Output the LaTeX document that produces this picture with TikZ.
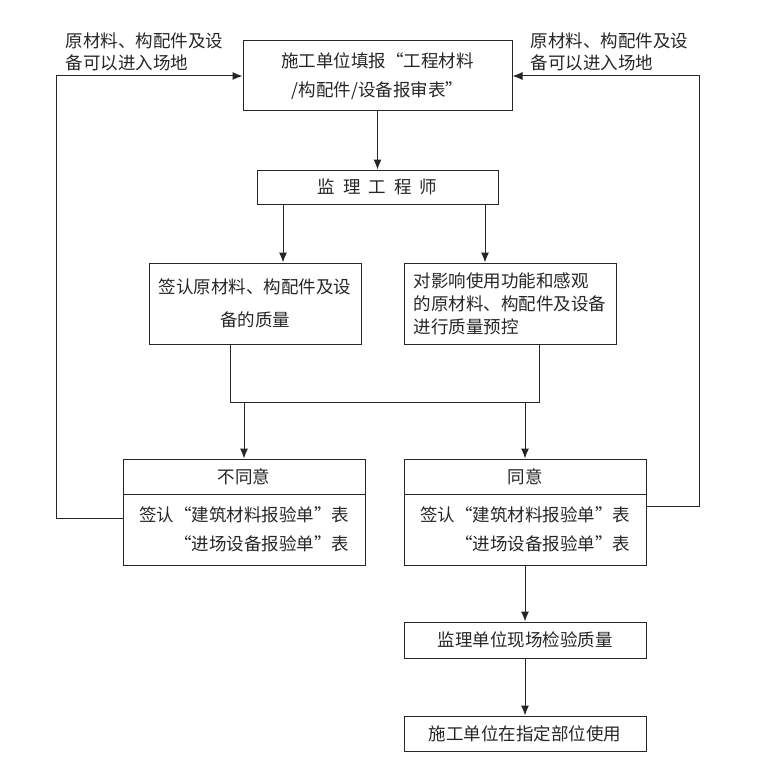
\documentclass[tikz,border=0pt]{standalone}
\usepackage{fontspec}
\newfontfamily\cjk{Noto Sans CJK SC}
\usetikzlibrary{arrows.meta}

\begin{document}
\begin{tikzpicture}[x=1pt, y=-1pt, line width=1pt, black!85,
    every node/.style={font=\cjk\fontsize{17.5}{29}\selectfont},
    box/.style={draw, inner sep=0pt, minimum width=242pt},
    arr/.style={-{Latex[length=10pt,width=8pt]}}]
    \useasboundingbox (0,0) rectangle (760,781);
    % boxes
    \node[box, minimum width=269pt, minimum height=70pt, align=center] (report) at (377.5,76) {施工单位填报“工程材料\\/构配件/设备报审表”};
    \node[box, minimum width=241pt, minimum height=34pt] (engr) at (377.5,187) {监\hspace{8pt}理\hspace{8pt}工\hspace{8pt}程\hspace{8pt}师};
    \node[box, minimum width=212pt, minimum height=81pt, align=center, font=\cjk\fontsize{17.5}{33}\selectfont] (sign) at (255,303.5) {签认原材料、构配件及设\\备的质量};
    \node[box, minimum width=212pt, minimum height=81pt, align=left, font=\cjk\fontsize{17.5}{23}\selectfont] (ctrl) at (510,303.5) {对影响使用功能和感观\\的原材料、构配件及设备\\进行质量预控};
    \node[box, minimum height=35pt] (nohead) at (244,476.5) {不同意};
    \node[box, minimum height=71pt, align=right] (nobody) at (244,529.5) {签认“建筑材料报验单”表\\“进场设备报验单”表};
    \node[box, minimum height=35pt] (yeshead) at (525,476.5) {同意};
    \node[box, minimum height=71pt, align=right] (yesbody) at (525,529.5) {签认“建筑材料报验单”表\\“进场设备报验单”表};
    \node[box, minimum height=36pt] (check) at (525,640) {监理单位现场检验质量};
    \node[box, minimum height=35pt] (use) at (525,733.5) {施工单位在指定部位使用};
    % side labels
    \node[anchor=west, align=left, font=\cjk\fontsize{17.5}{22}\selectfont] (inl) at (62,52) {原材料、构配件及设\\备可以进入场地};
    \node[anchor=west, align=left, font=\cjk\fontsize{17.5}{22}\selectfont] (inr) at (527,52) {原材料、构配件及设\\备可以进入场地};
    \coordinate (jn) at (0,402);
    \coordinate (lt) at (56,76);
    \coordinate (rt) at (699,76);
    % connectors
    \draw[arr] (report.south) -- (engr.north);
    \draw[arr] ([xshift=-94.5pt]engr.south) -- ([xshift=-94.5pt]engr.south |- sign.north);
    \draw[arr] ([xshift=107.5pt]engr.south) -- ([xshift=107.5pt]engr.south |- ctrl.north);
    \draw ([xshift=-25pt]sign.south) -- ([xshift=-25pt]sign.south |- jn) -| ([xshift=29pt]ctrl.south);
    \draw[arr] (nohead.north |- jn) -- (nohead.north);
    \draw[arr] (yeshead.north |- jn) -- (yeshead.north);
    \draw[arr] (yesbody.south) -- (check.north);
    \draw[arr] (check.south) -- (use.north);
    \draw[arr] ([yshift=11.5pt]nobody.west) -| (lt) -- (report.west);
    \draw[arr] ([yshift=23.5pt]yesbody.east) -| (rt) -- (report.east);
\end{tikzpicture}
\end{document}
